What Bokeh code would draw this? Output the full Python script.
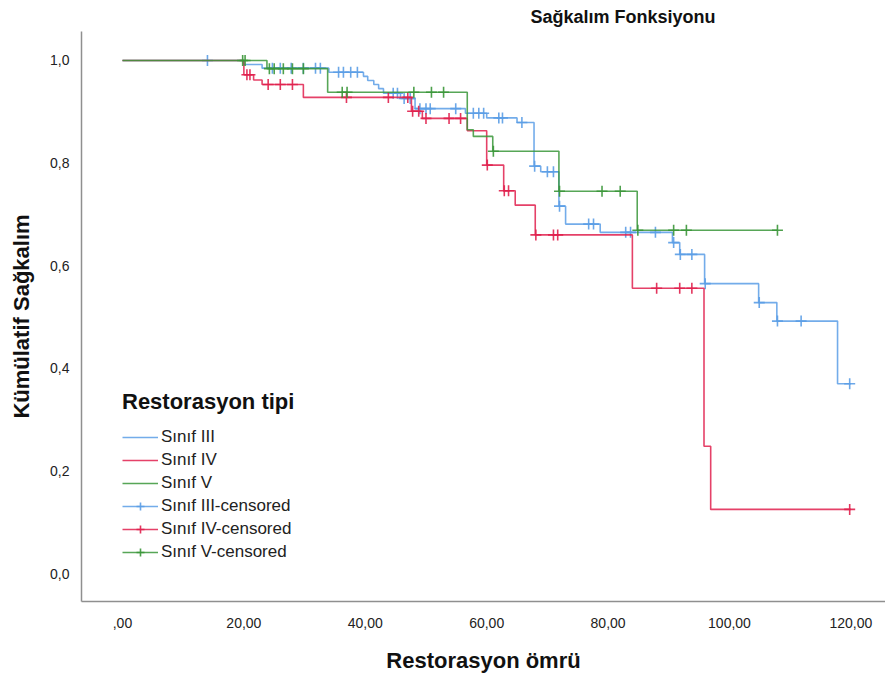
from bokeh.plotting import figure
from bokeh.models import (Range1d, FixedTicker, Legend, LegendItem, CustomJSTickFormatter)
from bokeh.embed import file_html
from bokeh.resources import INLINE

# ---- data ----
# Sınıf III
iii_t = [0, 20, 23, 34, 39.7, 40.4, 41.4, 42.2, 43, 45.8, 48.2, 56.5, 60, 65, 67.8, 68.9,
         71.9, 73, 78.7, 90.6, 91.8, 95.9, 104.8, 107.8, 117.8, 120]
iii_s = [1.0, 0.992, 0.985, 0.977, 0.969, 0.961, 0.953, 0.945, 0.936, 0.926, 0.906, 0.897,
         0.888, 0.879, 0.794, 0.783, 0.716, 0.681, 0.665, 0.645, 0.622, 0.565, 0.528, 0.492,
         0.370, 0.370]
iii_cens = [14, 24.7, 26, 27.8, 29.8, 31.8, 32.6, 35.6, 36.4, 37.6, 38.7, 44.6, 45.3, 46.4,
            47.4, 49, 50, 50.7, 54.9, 57.8, 58.7, 59.5, 62, 62.6, 65.8, 67.9, 70, 71, 72,
            76.8, 77.6, 82.9, 83.7, 87.8, 90.8, 91.9, 93.8, 96, 104.9, 107.9, 111.8, 119.8]

# Sınıf IV
iv_t = [0, 20, 21.6, 23, 29.8, 47.6, 49.4, 56.8, 60, 62.8, 64.7, 68, 84, 95.8, 96.9, 120]
iv_s = [1.0, 0.972, 0.962, 0.953, 0.928, 0.901, 0.887, 0.863, 0.796, 0.746, 0.718, 0.660,
        0.556, 0.248, 0.125, 0.125]
iv_cens = [20.5, 21, 24, 26, 28, 36.9, 43.8, 47, 47.8, 48.8, 50, 53.8, 55.7, 60.1, 62.9,
           63.6, 68.1, 71, 71.7, 88, 91.8, 93.8, 119.8]

# Sınıf V
v_t = [0, 23.8, 33.8, 56.8, 57.8, 61, 71.9, 84.8, 107.9]
v_s = [1.0, 0.984, 0.938, 0.865, 0.852, 0.823, 0.745, 0.669, 0.669]
v_cens = [19.8, 20.2, 24.2, 25, 26.5, 28, 29.8, 36.2, 37, 48, 50.9, 52.9, 61.1, 72, 79, 82,
          84.9, 90.8, 92.9, 107.9]

groups = ["Sınıf III", "Sınıf IV", "Sınıf V"]
colors = ["#5b9de6", "#e0204d", "#3a9639"]
x_ticks = [0, 20, 40, 60, 80, 100, 120]
y_ticks = [0, 0.2, 0.4, 0.6, 0.8, 1.0]


def surv_at(ts, ss, t):
    val = ss[0]
    for ti, si in zip(ts, ss):
        if ti <= t:
            val = si
    return val


FONT = "Liberation Sans"

p = figure(width=885, height=682, output_backend="svg", toolbar_location=None,
           x_range=Range1d(-6.75, 125.7), y_range=Range1d(-0.0545, 1.0564),
           min_border_left=81, min_border_right=0, min_border_bottom=81, min_border_top=0)

p.title.text = "Sağkalım Fonksiyonu"
p.title.text_font = FONT
p.title.text_font_size = "18px"
p.title.text_font_style = "bold"
p.title.text_color = "#111111"
p.title.align = "left"
p.title.offset = 449
p.title.standoff = 9

p.outline_line_color = None
p.xgrid.visible = False
p.ygrid.visible = False

for ax in (p.xaxis[0], p.yaxis[0]):
    ax.axis_line_color = "#8f8f8f"
    ax.axis_line_width = 1.5
    ax.major_tick_line_color = None
    ax.minor_tick_line_color = None
    ax.major_label_text_font = FONT
    ax.major_label_text_font_size = "14px"
    ax.major_label_text_color = "#222222"
    ax.axis_label_text_font = FONT
    ax.axis_label_text_font_size = "22px"
    ax.axis_label_text_font_style = "bold"
    ax.axis_label_text_color = "#111111"

p.xaxis.ticker = FixedTicker(ticks=x_ticks)
p.yaxis.ticker = FixedTicker(ticks=y_ticks)
p.xaxis.formatter = CustomJSTickFormatter(
    code="return tick == 0 ? ',00' : tick.toFixed(2).replace('.', ',');")
p.yaxis.formatter = CustomJSTickFormatter(code="return tick.toFixed(1).replace('.', ',');")
p.xaxis.major_label_standoff = 10
p.yaxis.major_label_standoff = 6
p.xaxis.axis_label = "Restorasyon ömrü"
p.yaxis.axis_label = "Kümülatif Sağkalım"
p.xaxis.axis_label_standoff = 17
p.yaxis.axis_label_standoff = 13

series = [(iii_t, iii_s, iii_cens), (iv_t, iv_s, iv_cens), (v_t, v_s, v_cens)]
line_items = []
cens_items = []
for name, col, (ts, ss, cens) in zip(groups, colors, series):
    r = p.step(x=ts, y=ss, mode="after", line_color=col, line_width=1.6, line_alpha=0.85)
    cy = [surv_at(ts, ss, c) for c in cens]
    m = p.scatter(x=cens, y=cy, marker="cross", size=11, line_color=col, line_width=1.6,
                  line_alpha=0.9)
    line_items.append(LegendItem(label=name, renderers=[r]))
    cens_items.append(LegendItem(label=name + "-censored", renderers=[r, m]))

legend = Legend(items=line_items + cens_items, location=(41, 38),
                title="Restorasyon tipi", title_text_font=FONT, title_text_font_size="22px",
                title_text_font_style="bold", title_text_color="#111111", title_standoff=10,
                label_text_font=FONT, label_text_font_size="17px", label_text_color="#222222",
                label_height=23, glyph_height=20, glyph_width=36, label_standoff=3,
                spacing=0, padding=0, margin=0, border_line_color=None,
                background_fill_alpha=0)
p.add_layout(legend, "center")

open("out.html", "w").write(file_html(p, INLINE))
